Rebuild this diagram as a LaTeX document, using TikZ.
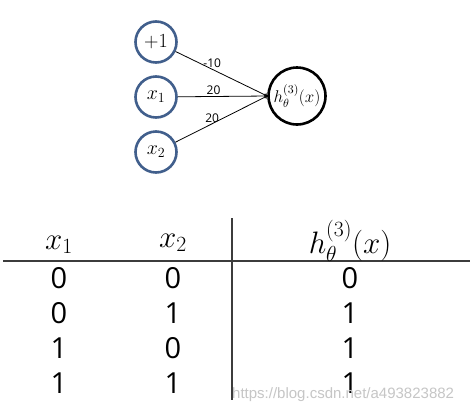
\RequirePackage{fix-cm}
\documentclass[tikz,border=0pt]{standalone}
\usepackage{amsmath}
\usepackage{fontspec}
\setsansfont{Open Sans}
\newfontfamily\markfont{Liberation Sans}
\usepackage{tikz}
\definecolor{ringblue}{RGB}{65,95,140}
\definecolor{rulegray}{RGB}{60,60,60}

\begin{document}
\begin{tikzpicture}[x=1pt,y=1pt,
        unit/.style={circle,draw=ringblue,line width=2.6pt,minimum size=41pt,inner sep=0pt,font=\fontsize{20}{24}\selectfont},
        outunit/.style={circle,draw,line width=2.6pt,minimum size=57pt,inner sep=0pt,font=\fontsize{17}{20}\selectfont},
        wt/.style={font=\sffamily\fontsize{12}{14}\selectfont,inner sep=1pt},
        head/.style={anchor=base,inner sep=0pt,font=\fontsize{31}{36}\selectfont},
        cell/.style={anchor=base,inner sep=0pt,font=\sffamily\fontsize{29}{34}\selectfont},
        node distance=55pt]
        \useasboundingbox[fill=white] (0,0) rectangle (473,-413);
        % the unit
        \node[unit] at (156,-97) (x1) {$x_1$};
        \node[unit, above of=x1] (b) {$+1$};
        \node[unit, below of=x1] (x2) {$x_2$};
        \node[outunit] at (297,-96) (h) {$h_\theta^{(3)}(x)$};
        \draw[->, line width=0.8pt] (b) -- node[wt, pos=0.4, above] {-10} (h.west);
        \draw[->, line width=0.8pt] (x1) -- node[wt, pos=0.4, above] {20} (h.west);
        \draw[->, line width=0.8pt] (x2) -- node[wt, pos=0.4, above] {20} (h.west);
        % the table
        \draw[rulegray, line width=1.6pt] (3,-261) -- (470,-261);
        \draw[rulegray, line width=1.6pt] (232,-218) -- (232,-400);
        \node[head] at (59,-249) (ha) {$x_1$};
        \node[head] at (173,-247) (hb) {$x_2$};
        \node[head] at (350,-253) (hc) {$h_\theta^{(3)}(x)$};
        \node[cell] at (59,-288) (a1) {0};
        \node[cell] at (173,-288) (b1) {0};
        \node[cell] at (350,-288) (c1) {0};
        \node[cell] at (59,-323) (a2) {0};
        \node[cell] at (173,-323) (b2) {1};
        \node[cell] at (350,-323) (c2) {1};
        \node[cell] at (59,-358) (a3) {1};
        \node[cell] at (173,-358) (b3) {0};
        \node[cell] at (350,-358) (c3) {1};
        \node[cell] at (59,-393) (a4) {1};
        \node[cell] at (173,-393) (b4) {1};
        \node[cell] at (350,-393) (c4) {1};
        \node[anchor=base west, inner sep=0pt, text=gray!45, font=\markfont\fontsize{15}{18}\selectfont] at (232,-398) (wm) {https://blog.csdn.net/a493823882};
\end{tikzpicture}
\end{document}
